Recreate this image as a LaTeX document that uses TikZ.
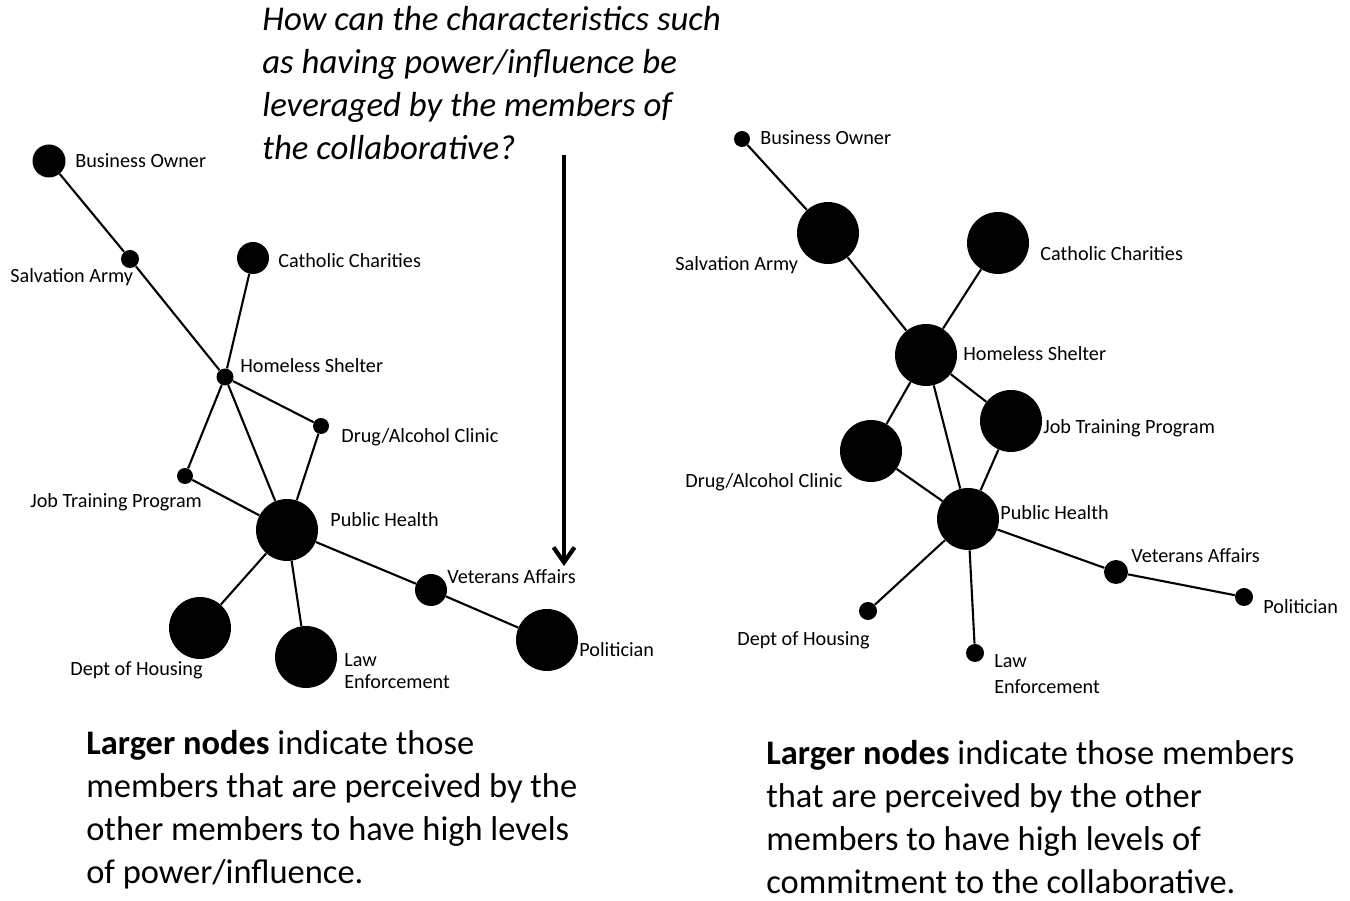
\documentclass[tikz,border=0pt]{standalone}
\usepackage{fontspec}
\setmainfont{Carlito}
\usetikzlibrary{arrows.meta}
\begin{document}
\begin{tikzpicture}[x=0.02cm,y=-0.02cm,
  dot/.style={circle,fill=black,inner sep=0pt,minimum size=#1*0.02cm},
  lbl/.style={anchor=base west,inner sep=0pt,font=\fontsize{11.5}{13}\selectfont},
  edge/.style={line width=1.2pt},
  para/.style={anchor=base west,inner sep=0pt,align=left,font=\fontsize{19.6}{24.5}\selectfont}]
\useasboundingbox (0,0) rectangle (1350,901);

% ---------- question and arrow (base = last line) ----------
\node[para,font=\fontsize{19.8}{24.5}\selectfont\itshape] (q) at (262,160)
  {How can the characteristics such\\as having power/influence be\\leveraged by the members of\\the collaborative?};
\coordinate (a1) at (564,155);
\coordinate (a2) at (564,566);
\draw[line width=2.8pt,-{Straight Barb[length=0.3cm,width=0.42cm,line width=2.4pt]}] (a1) -- (a2);

% ---------- left network (power/influence) ----------
\node[dot=33] (LBO) at (49,161) {};
\node[dot=18] (LSA) at (130,259) {};
\node[dot=32] (LCC) at (253,258) {};
\node[dot=17] (LHS) at (225,377) {};
\node[dot=16] (LDA) at (321,426) {};
\node[dot=16] (LJT) at (185,476) {};
\node[dot=62] (LPH) at (287,530) {};
\node[dot=32] (LVA) at (431,590) {};
\node[dot=62] (LPO) at (547,640) {};
\node[dot=62] (LDH) at (200,628) {};
\node[dot=62] (LLE) at (306,657) {};

\draw[edge] (LBO) -- (LSA);
\draw[edge] (LSA) -- (LHS);
\draw[edge] (LCC) -- (LHS);
\draw[edge] (LHS) -- (LDA);
\draw[edge] (LHS) -- (LJT);
\draw[edge] (LHS) -- (LPH);
\draw[edge] (LDA) -- (LPH);
\draw[edge] (LJT) -- (LPH);
\draw[edge] (LPH) -- (LVA);
\draw[edge] (LVA) -- (LPO);
\draw[edge] (LPH) -- (LDH);
\draw[edge] (LPH) -- (LLE);

\node[lbl] (tLBO) at (75,168) {Business Owner};
\node[lbl] (tLSA) at (10,283) {Salvation Army};
\node[lbl] (tLCC) at (278,268) {Catholic Charities};
\node[lbl] (tLHS) at (240,373) {Homeless Shelter};
\node[lbl] (tLDA) at (341,443) {Drug/Alcohol Clinic};
\node[lbl] (tLJT) at (30,508) {Job Training Program};
\node[lbl] (tLPH) at (330,527) {Public Health};
\node[lbl] (tLVA) at (447,584) {Veterans Affairs};
\node[lbl] (tLPO) at (579,657) {Politician};
\node[lbl] (tLDH) at (70,676) {Dept of Housing};
\node[lbl,align=left] (tLLE) at (344,689) {Law\\Enforcement};

\node[para] (capL) at (86,884)
  {\textbf{Larger nodes} indicate those\\members that are perceived by the\\other members to have high levels\\of power/influence.};

% ---------- right network (commitment) ----------
\node[dot=16] (RBO) at (742,139) {};
\node[dot=62] (RSA) at (828,233) {};
\node[dot=62] (RCC) at (998,243) {};
\node[dot=62] (RHS) at (926,355) {};
\node[dot=62] (RJT) at (1011,421) {};
\node[dot=62] (RDA) at (871,451) {};
\node[dot=62] (RPH) at (968,519) {};
\node[dot=24] (RVA) at (1116,572) {};
\node[dot=18] (RPO) at (1244,597) {};
\node[dot=18] (RDH) at (868,611) {};
\node[dot=18] (RLE) at (975,653) {};

\draw[edge] (RBO) -- (RSA);
\draw[edge] (RSA) -- (RHS);
\draw[edge] (RCC) -- (RHS);
\draw[edge] (RHS) -- (RDA);
\draw[edge] (RHS) -- (RJT);
\draw[edge] (RHS) -- (RPH);
\draw[edge] (RDA) -- (RPH);
\draw[edge] (RJT) -- (RPH);
\draw[edge] (RPH) -- (RVA);
\draw[edge] (RVA) -- (RPO);
\draw[edge] (RPH) -- (RDH);
\draw[edge] (RPH) -- (RLE);

\node[lbl] (tRBO) at (760,145) {Business Owner};
\node[lbl] (tRSA) at (675,271) {Salvation Army};
\node[lbl] (tRCC) at (1040,261) {Catholic Charities};
\node[lbl] (tRHS) at (963,361) {Homeless Shelter};
\node[lbl] (tRJT) at (1043,434) {Job Training Program};
\node[lbl] (tRDA) at (685,488) {Drug/Alcohol Clinic};
\node[lbl] (tRPH) at (1000,520) {Public Health};
\node[lbl] (tRVA) at (1131,563) {Veterans Affairs};
\node[lbl] (tRPO) at (1263,614) {Politician};
\node[lbl] (tRDH) at (737,646) {Dept of Housing};
\node[lbl,align=left] (tRLE) at (994,694) {Law\\[1.8pt]Enforcement};

\node[para] (capR) at (766,894)
  {\textbf{Larger nodes} indicate those members\\that are perceived by the other\\members to have high levels of\\commitment to the collaborative.};
\end{tikzpicture}
\end{document}
